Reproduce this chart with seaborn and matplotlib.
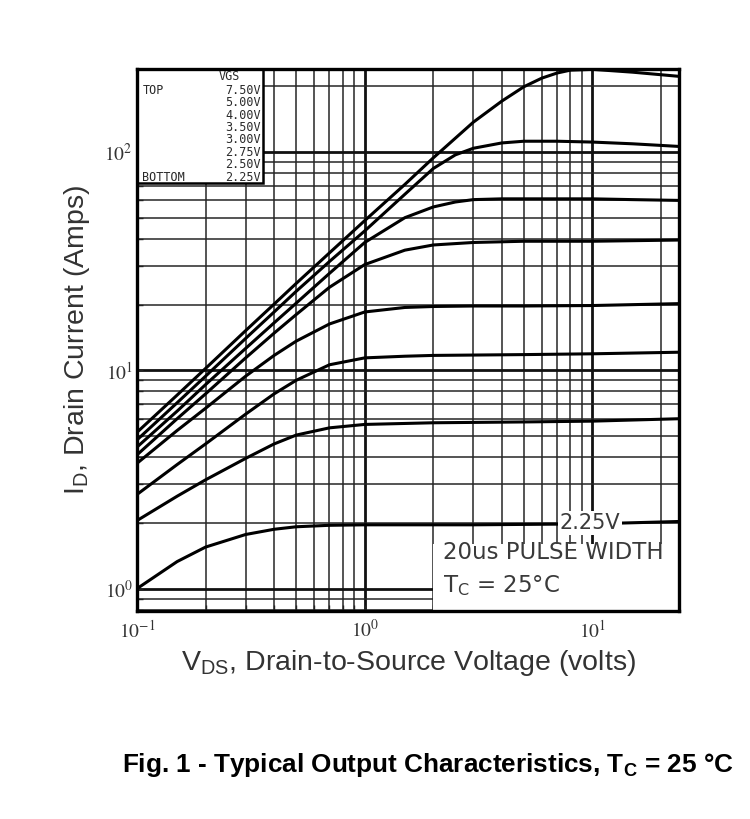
import matplotlib
matplotlib.use("Agg")
import matplotlib.pyplot as plt
import numpy as np
import pandas as pd
import seaborn as sns
from matplotlib.patches import Rectangle
from matplotlib.ticker import LogLocator, NullFormatter

# Valeurs (VDS en volts, ID en ampères)
vgs_labels = ["7.50V", "5.00V", "4.00V", "3.50V", "3.00V", "2.75V", "2.50V", "2.25V"]

vds_750 = [0.1, 0.15, 0.2, 0.3, 0.4, 0.5, 0.7, 1.0, 1.5, 2.0, 3.0, 4.0, 5.0, 6.0, 7.0, 8.0, 10.0, 15.0, 24.0]
id_750 = [5.2, 7.7, 10.2, 15.2, 20.1, 25.0, 34.5, 48.5, 71, 94, 137, 171, 199, 218, 230, 237, 239, 232, 222]

vds_500 = [0.1, 0.15, 0.2, 0.3, 0.4, 0.5, 0.7, 1.0, 1.5, 2.0, 2.5, 3.0, 4.0, 5.0, 7.0, 10.0, 15.0, 24.0]
id_500 = [4.8, 7.1, 9.4, 14.0, 18.5, 23.0, 31.5, 43.5, 64, 84, 97, 104, 110, 112, 112, 111, 109, 106]

vds_400 = [0.1, 0.15, 0.2, 0.3, 0.4, 0.5, 0.7, 1.0, 1.5, 2.0, 2.5, 3.0, 4.0, 5.0, 10.0, 15.0, 24.0]
id_400 = [4.45, 6.5, 8.6, 12.6, 16.5, 20.3, 27.8, 38.5, 50, 56, 59, 60.5, 61, 61, 61, 60.5, 60]

vds_350 = [0.1, 0.15, 0.2, 0.3, 0.4, 0.5, 0.7, 1.0, 1.5, 2.0, 3.0, 5.0, 10.0, 24.0]
id_350 = [4.1, 6.0, 7.8, 11.4, 14.8, 18.0, 24.0, 30.5, 35.5, 37.5, 38.5, 39, 39, 39.5]

vds_300 = [0.1, 0.15, 0.2, 0.3, 0.4, 0.5, 0.7, 1.0, 1.5, 2.0, 3.0, 5.0, 10.0, 24.0]
id_300 = [3.75, 5.3, 6.7, 9.4, 11.7, 13.6, 16.3, 18.5, 19.4, 19.6, 19.7, 19.7, 19.8, 20.2]

vds_275 = [0.1, 0.15, 0.2, 0.3, 0.4, 0.5, 0.7, 1.0, 1.5, 2.0, 5.0, 10.0, 24.0]
id_275 = [2.7, 3.7, 4.6, 6.3, 7.8, 9.0, 10.6, 11.4, 11.6, 11.7, 11.8, 11.9, 12.1]

vds_250 = [0.1, 0.15, 0.2, 0.3, 0.4, 0.5, 0.7, 1.0, 2.0, 5.0, 10.0, 24.0]
id_250 = [2.05, 2.65, 3.15, 3.95, 4.6, 5.05, 5.45, 5.65, 5.75, 5.8, 5.85, 6.0]

vds_225 = [0.1, 0.15, 0.2, 0.3, 0.4, 0.5, 0.7, 1.0, 3.0, 10.0, 24.0]
id_225 = [1.0, 1.33, 1.55, 1.77, 1.87, 1.92, 1.95, 1.96, 1.96, 1.98, 2.03]

series = [(vds_750, id_750), (vds_500, id_500), (vds_400, id_400), (vds_350, id_350),
          (vds_300, id_300), (vds_275, id_275), (vds_250, id_250), (vds_225, id_225)]

frames = []
for lab, (xs, ys) in zip(vgs_labels, series):
    frames.append(pd.DataFrame({"VDS": xs, "ID": ys, "VGS": lab}))
df = pd.concat(frames, ignore_index=True)

sns.set_style("white")
plt.rcParams["font.family"] = ["Liberation Sans", "DejaVu Sans"]
plt.rcParams["mathtext.fontset"] = "stix"

fig = plt.figure(figsize=(7.5, 8.19), dpi=100)
ax = fig.add_axes([0.1827, 0.254, 0.7227, 0.6618])
ax.set_xscale("log")
ax.set_yscale("log")
ax.set_xlim(0.1, 24)
ax.set_ylim(0.79, 240)

ax.xaxis.set_minor_locator(LogLocator(base=10, subs=np.arange(2, 10)))
ax.yaxis.set_minor_locator(LogLocator(base=10, subs=np.arange(2, 10)))
ax.xaxis.set_minor_formatter(NullFormatter())
ax.yaxis.set_minor_formatter(NullFormatter())
ax.set_axisbelow(True)
ax.grid(True, which="major", color="#111111", lw=2.0)
ax.grid(True, which="minor", color="#262626", lw=1.1)

sns.lineplot(data=df, x="VDS", y="ID", units="VGS", estimator=None, sort=False,
             color="black", lw=2.2, ax=ax, zorder=3, legend=False)

ax.set_xticks([0.1, 1, 10])
ax.set_xticklabels([r"$10^{-1}$", r"$10^{0}$", r"$10^{1}$"])
ax.set_yticks([1, 10, 100])
ax.set_yticklabels([r"$10^{0}$", r"$10^{1}$", r"$10^{2}$"])
ax.tick_params(which="both", direction="in", length=4, width=1, colors="#222222",
               labelsize=14, labelcolor="#333333", left=True, bottom=True)
ax.tick_params(axis="x", pad=6)
ax.tick_params(axis="y", pad=3)
for s in ax.spines.values():
    s.set_linewidth(2.4)
    s.set_color("black")
    s.set_zorder(5)

ax.set_xlabel(r"V$\mathregular{_{DS}}$, Drain-to-Source Voltage (volts)", fontsize=20.5,
              color="#333333", labelpad=5)
ax.set_ylabel(r"I$\mathregular{_D}$, Drain Current (Amps)", fontsize=20.5,
              color="#333333", labelpad=9)

# boîte VGS en haut à gauche
ax.add_patch(Rectangle((0, 0.79), 0.2325, 0.21, transform=ax.transAxes,
                       facecolor="white", edgecolor="black", lw=1.8, zorder=4))
mono = dict(family="DejaVu Sans Mono", fontsize=8.5, color="#2a2a2a", zorder=6)
ax.text(0.170, 0.987, "VGS", transform=ax.transAxes, ha="center", va="center", **mono)
row_y = np.linspace(0.961, 0.800, len(vgs_labels))
for yy, lab in zip(row_y, vgs_labels):
    ax.text(0.229, yy, lab, transform=ax.transAxes, ha="right", va="center", **mono)
ax.text(0.010, row_y[0], "TOP", transform=ax.transAxes, ha="left", va="center", **mono)
ax.text(0.010, row_y[-1], "BOTTOM", transform=ax.transAxes, ha="left", va="center", **mono)

# zone blanche pour les conditions de test
ax.add_patch(Rectangle((2.0, 0.80), 22.5, 0.80, facecolor="white", edgecolor="none", zorder=2))
plot_font = dict(family="DejaVu Sans", color="#3a3a3a", zorder=6)
ax.text(2.2, 1.47, "20us PULSE WIDTH", ha="left", va="center", fontsize=16.5, **plot_font)
ax.text(2.2, 1.03, r"T$\mathregular{_C}$ = 25°C", ha="left", va="center", fontsize=16.5, **plot_font)
ax.text(9.75, 2.0, "2.25V", ha="center", va="center", fontsize=15,
        bbox=dict(facecolor="white", edgecolor="none", pad=1.5), **plot_font)

fig.text(0.571, 1 - 765 / 819, r"Fig. 1 - Typical Output Characteristics, T$\mathregular{_C}$ = 25 °C",
         ha="center", va="center", fontsize=18.8, fontweight="bold", color="black")

fig.savefig("out.png", dpi=100)
